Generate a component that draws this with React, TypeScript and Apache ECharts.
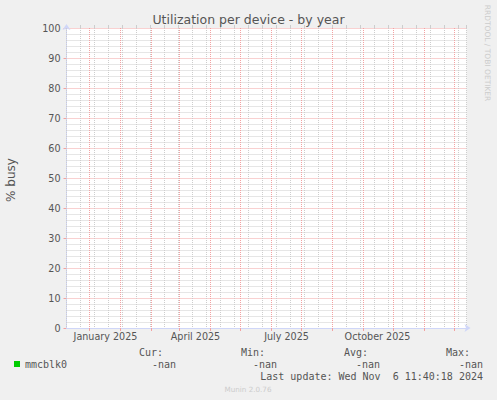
import React, { useEffect, useRef } from 'react';
import * as echarts from 'echarts';

// ---- chart data ----
const chartTitle = 'Utilization per device - by year';
const yAxisName = '% busy';
const startDate = '2024-11-08';
const spanDays = 400;
const minorGridDays = 14;
const monthStarts = [
  '2024-12-01', '2025-01-01', '2025-02-01', '2025-03-01', '2025-04-01', '2025-05-01',
  '2025-06-01', '2025-07-01', '2025-08-01', '2025-09-01', '2025-10-01', '2025-11-01', '2025-12-01',
];
const xLabelTexts = ['January 2025', 'April 2025', 'July 2025', 'October 2025'];
const xLabelDays = [39, 129, 220, 311];
const yMin = 0;
const yMax = 100;
const yStep = 10;
const seriesName = 'mmcblk0';
const seriesDays = [0, 400];
const seriesValues: (number | null)[] = [null, null]; // no data: -nan
const statLabels = ['Cur:', 'Min:', 'Avg:', 'Max:'];
const statValues = ['-nan', '-nan', '-nan', '-nan'];
const lastUpdate = 'Last update: Wed Nov  6 11:40:18 2024';
const footerText = 'Munin 2.0.76';
const watermarkText = 'RRDTOOL / TOBI OETIKER';

const DAY = 86400000;
const toDay = (d: string) => Math.round((Date.parse(d) - Date.parse(startDate)) / DAY);

const FONT = 'DejaVu Sans';
const MONO = 'DejaVu Sans Mono';
const TXT = '#555555';
const MINOR = '#cdcdcd';
const MAJOR = '#f2a2a2';
const AXIS = '#CFD6F8';

export default function App() {
  const ref = useRef<HTMLDivElement>(null);
  useEffect(() => {
    if (!ref.current) return;
    const chart = echarts.init(ref.current, undefined, { renderer: 'svg' });
    const statLabelRight = [163, 265, 368, 470];
    const statValueRight = [176, 277, 380, 483];
    const graphics: any[] = [];
    const monoStyle = (t: string) => ({
      text: t, fill: TXT, fontFamily: MONO, fontSize: 10,
      textAlign: 'right', align: 'right', verticalAlign: 'middle', textVerticalAlign: 'middle',
    });
    statLabels.forEach((t, i) => {
      graphics.push({ type: 'text', x: statLabelRight[i], y: 352, style: monoStyle(t) });
    });
    statValues.forEach((t, i) => {
      graphics.push({ type: 'text', x: statValueRight[i], y: 364.5, style: monoStyle(t) });
    });
    graphics.push({ type: 'text', x: 483, y: 376.5, style: monoStyle(lastUpdate) });
    graphics.push({
      type: 'text', x: 248, y: 389,
      style: { text: footerText, fill: '#cccccc', fontFamily: FONT, fontSize: 7.2, textAlign: 'center', align: 'center', verticalAlign: 'middle', textVerticalAlign: 'middle' },
    });
    graphics.push({
      type: 'text', x: 487, y: 53, rotation: -Math.PI / 2,
      style: { text: watermarkText, fill: '#cccccc', fontFamily: FONT, fontSize: 7.5, textAlign: 'center', align: 'center', verticalAlign: 'middle', textVerticalAlign: 'middle' },
    });
    graphics.push({
      type: 'text', x: 11, y: 180, rotation: Math.PI / 2,
      style: { text: yAxisName, fill: TXT, fontFamily: FONT, fontSize: 12, textAlign: 'center', align: 'center', verticalAlign: 'middle', textVerticalAlign: 'middle' },
    });

    const monthDays = monthStarts.map(toDay);

    chart.setOption({
      animation: false,
      backgroundColor: '#F0F0F0',
      title: {
        text: chartTitle,
        left: 'center',
        top: 8,
        textStyle: { color: TXT, fontFamily: FONT, fontSize: 12.5, fontWeight: 'normal' },
      },
      grid: {
        left: 66.5, top: 28, width: 400, height: 300,
        show: true, backgroundColor: '#ffffff', borderWidth: 0,
        containLabel: false,
      },
      legend: {
        left: 14, top: 359, padding: 0,
        itemWidth: 6, itemHeight: 6,
        icon: 'rect',
        textStyle: { color: TXT, fontFamily: MONO, fontSize: 10 },
        data: [{ name: seriesName, icon: 'rect' }],
        selectedMode: false,
      },
      xAxis: [
        {
          type: 'value',
          min: 0, max: spanDays, interval: minorGridDays,
          axisLine: { show: true, lineStyle: { color: AXIS, width: 1 }, symbol: ['none', 'arrow'], symbolSize: [6, 6], symbolOffset: [0, 4] },
          axisTick: { show: false },
          axisLabel: {
            show: true,
            customValues: xLabelDays,
            formatter: (v: number) => {
              const i = xLabelDays.indexOf(v);
              return i >= 0 ? xLabelTexts[i] : '';
            },
            color: TXT, fontFamily: FONT, fontSize: 9.6, margin: 3,
            showMinLabel: true, showMaxLabel: true, hideOverlap: false,
          },
          splitLine: { show: true, lineStyle: { color: MINOR, type: [1, 1], width: 1 } },
          z: 1,
        },
        {
          type: 'value',
          position: 'bottom',
          min: 0, max: spanDays,
          axisLine: { show: false },
          axisTick: { show: true, length: 3, inside: false, customValues: monthDays, lineStyle: { color: MAJOR } },
          axisLabel: { show: false },
          splitLine: { show: true, lineStyle: { color: MAJOR, type: [1, 1], width: 1 } },
          z: 2,
        },
        {
          type: 'value',
          position: 'top',
          min: 0, max: spanDays, interval: minorGridDays,
          axisLine: { show: false },
          axisTick: { show: true, length: 3, inside: false, lineStyle: { color: MINOR } },
          axisLabel: { show: false },
          splitLine: { show: false },
        },
      ],
      yAxis: {
        type: 'value',
        min: yMin, max: yMax, interval: yStep,
        axisLine: { show: true, lineStyle: { color: AXIS, width: 1 }, symbol: ['none', 'arrow'], symbolSize: [6, 6], symbolOffset: [0, 4] },
        axisTick: { show: true, length: 3, lineStyle: { color: MAJOR } },
        axisLabel: { color: TXT, fontFamily: FONT, fontSize: 9.6, margin: 6 },
        splitLine: { show: true, lineStyle: { color: MAJOR, type: [1, 1], width: 1 } },
        minorTick: { show: false, splitNumber: 5 },
        minorSplitLine: { show: true, lineStyle: { color: MINOR, type: [1, 1], width: 1 } },
      },
      series: [
        {
          name: seriesName,
          type: 'line',
          xAxisIndex: 0,
          color: '#00CC00',
          itemStyle: { color: '#00CC00' },
          lineStyle: { color: '#00CC00', width: 1 },
          showSymbol: false,
          data: seriesDays.map((d, i) => [d, seriesValues[i] === null ? '-' : seriesValues[i]]),
        },
      ],
      graphic: graphics,
    });
    return () => chart.dispose();
  }, []);
  return <div ref={ref} style={{ position: 'fixed', left: 0, top: 0, width: 497, height: 400 }} />;
}
